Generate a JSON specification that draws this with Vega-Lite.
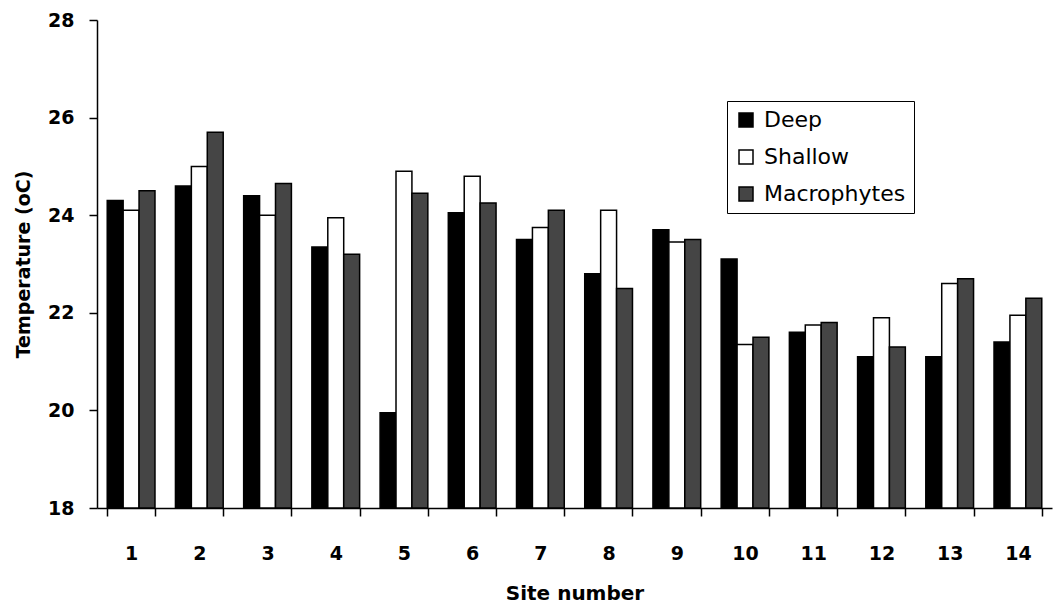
{
  "$schema": "https://vega.github.io/schema/vega-lite/v6.json",
  "width": 955,
  "height": 488,
  "autosize": "none",
  "padding": {"left": 97, "top": 20, "right": 4, "bottom": 98},
  "background": "white",
  "config": {
    "view": {"stroke": null},
    "font": "DejaVu Sans",
    "axis": {"domainColor": "black", "tickColor": "black", "labelColor": "black", "titleColor": "black", "grid": false, "domainWidth": 1.5, "tickWidth": 1.5, "labelFont": "DejaVu Sans", "titleFont": "DejaVu Sans"}
  },
  "data": {
    "values": [
      {"site": 1, "type": "Deep", "temp": 24.3},
      {"site": 1, "type": "Shallow", "temp": 24.1},
      {"site": 1, "type": "Macrophytes", "temp": 24.5},
      {"site": 2, "type": "Deep", "temp": 24.6},
      {"site": 2, "type": "Shallow", "temp": 25.0},
      {"site": 2, "type": "Macrophytes", "temp": 25.7},
      {"site": 3, "type": "Deep", "temp": 24.4},
      {"site": 3, "type": "Shallow", "temp": 24.0},
      {"site": 3, "type": "Macrophytes", "temp": 24.65},
      {"site": 4, "type": "Deep", "temp": 23.35},
      {"site": 4, "type": "Shallow", "temp": 23.95},
      {"site": 4, "type": "Macrophytes", "temp": 23.2},
      {"site": 5, "type": "Deep", "temp": 19.95},
      {"site": 5, "type": "Shallow", "temp": 24.9},
      {"site": 5, "type": "Macrophytes", "temp": 24.45},
      {"site": 6, "type": "Deep", "temp": 24.05},
      {"site": 6, "type": "Shallow", "temp": 24.8},
      {"site": 6, "type": "Macrophytes", "temp": 24.25},
      {"site": 7, "type": "Deep", "temp": 23.5},
      {"site": 7, "type": "Shallow", "temp": 23.75},
      {"site": 7, "type": "Macrophytes", "temp": 24.1},
      {"site": 8, "type": "Deep", "temp": 22.8},
      {"site": 8, "type": "Shallow", "temp": 24.1},
      {"site": 8, "type": "Macrophytes", "temp": 22.5},
      {"site": 9, "type": "Deep", "temp": 23.7},
      {"site": 9, "type": "Shallow", "temp": 23.45},
      {"site": 9, "type": "Macrophytes", "temp": 23.5},
      {"site": 10, "type": "Deep", "temp": 23.1},
      {"site": 10, "type": "Shallow", "temp": 21.35},
      {"site": 10, "type": "Macrophytes", "temp": 21.5},
      {"site": 11, "type": "Deep", "temp": 21.6},
      {"site": 11, "type": "Shallow", "temp": 21.75},
      {"site": 11, "type": "Macrophytes", "temp": 21.8},
      {"site": 12, "type": "Deep", "temp": 21.1},
      {"site": 12, "type": "Shallow", "temp": 21.9},
      {"site": 12, "type": "Macrophytes", "temp": 21.3},
      {"site": 13, "type": "Deep", "temp": 21.1},
      {"site": 13, "type": "Shallow", "temp": 22.6},
      {"site": 13, "type": "Macrophytes", "temp": 22.7},
      {"site": 14, "type": "Deep", "temp": 21.4},
      {"site": 14, "type": "Shallow", "temp": 21.95},
      {"site": 14, "type": "Macrophytes", "temp": 22.3}
    ]
  },
  "mark": {"type": "bar", "stroke": "black", "strokeWidth": 1.5},
  "encoding": {
    "x": {
      "field": "site", "type": "ordinal",
      "scale": {"paddingInner": 0.3, "paddingOuter": 0.15},
      "axis": {
        "title": "Site number", "labelAngle": 0, "tickBand": "extent",
        "tickSize": 8, "labelPadding": 28, "labelFontSize": 19, "labelFontWeight": "bold",
        "titleFontSize": 20, "titleFontWeight": "bold", "titlePadding": 20
      }
    },
    "xOffset": {"field": "type", "type": "nominal", "sort": ["Deep", "Shallow", "Macrophytes"]},
    "y": {
      "field": "temp", "type": "quantitative",
      "scale": {"domain": [18, 28], "zero": false, "nice": false},
      "axis": {
        "title": "Temperature  (oC)", "values": [18, 20, 22, 24, 26, 28],
        "tickSize": 8, "labelPadding": 15, "labelFontSize": 19, "labelFontWeight": "bold",
        "titleFontSize": 19, "titleFontWeight": "bold", "titlePadding": 14
      }
    },
    "y2": {"datum": 18},
    "color": {
      "field": "type", "type": "nominal",
      "sort": ["Deep", "Shallow", "Macrophytes"],
      "scale": {"domain": ["Deep", "Shallow", "Macrophytes"], "range": ["black", "white", "#454545"]},
      "legend": {
        "title": null, "orient": "none", "legendX": 630, "legendY": 81,
        "strokeColor": "black", "padding": 8, "symbolType": "square", "symbolSize": 196,
        "symbolStrokeColor": "black", "symbolStrokeWidth": 1.5, "symbolOpacity": 1,
        "labelFont": "DejaVu Sans", "labelFontSize": 22, "labelColor": "black", "rowPadding": 15, "labelOffset": 7
      }
    }
  }
}
